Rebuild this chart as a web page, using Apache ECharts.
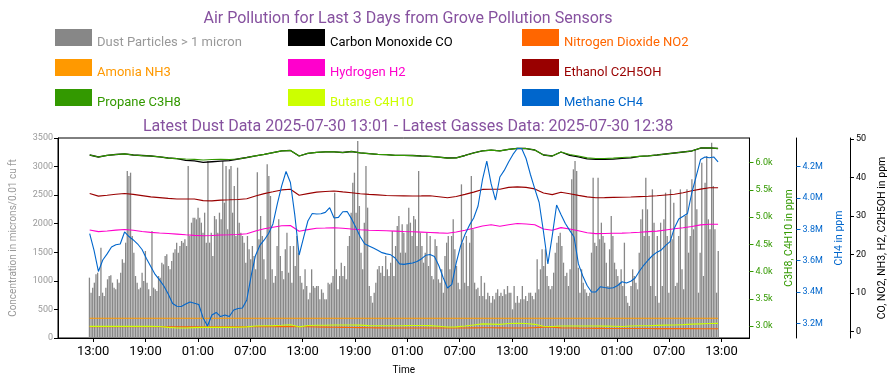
<!DOCTYPE html>
<html><head><meta charset="utf-8">
<script src="https://cdn.jsdelivr.net/npm/echarts@6/dist/echarts.min.js"></script>
<style>html,body{margin:0;padding:0;background:#fff}#c{width:896px;height:385px}</style>
</head><body><div id="c"></div>
<script>
// Time in hours since 2025-07-27 00:00
const tickHours = [13,19,25,31,37,43,49,55,61,67,73,79,85];
const tickLabels = ['13:00','19:00','01:00','07:00','13:00','19:00','01:00','07:00','13:00','19:00','01:00','07:00','13:00'];

const dustStart = 12.57, dustEnd = 84.62;
const dustValues = [
1056,793,881,968,1114,1143,735,1581,793,735,881,1027,1085,1097,968,881,852,1027,968,1143,1377,1318,1668,2923,2835,2893,1785,1493,1085,968,852,881,1143,998,1523,968,852,735,1873,881,852,823,1085,1056,1318,1289,1435,1464,1260,1202,1348,1493,1552,1668,1493,1610,1698,1668,1727,1610,3010,1785,2018,2105,
2106,2077,2281,2106,2018,1843,2193,1668,3098,1668,1843,1435,2135,2077,1843,2193,2077,3098,2368,3010,1902,2952,3010,2193,2660,1785,2981,2018,1843,1785,1668,1318,1785,1552,1377,1610,1435,1202,2900,1727,2135,1785,1377,1027,3039,2835,2485,1202,968,1085,1610,2077,1435,1173,1027,1552,1843,1143,1610,968,1610,1260,1785,1493,
1085,968,852,1202,910,677,793,1202,910,881,910,910,677,852,793,677,677,968,939,968,1085,2543,1202,852,1085,1318,1085,1260,1027,1610,1785,2193,2718,2893,2193,3447,2310,1493,1202,2018,3010,2281,910,735,618,793,968,1202,1260,1143,1260,1085,1435,1202,1085,1318,1873,1085,1610,1960,2135,1493,1989,1843,
1493,1989,2281,2018,1785,2135,2077,1610,2923,1843,1610,1318,1493,1843,1260,1785,1085,1027,1727,1610,1027,968,1202,793,1435,1668,1785,1202,1785,2077,1552,1260,968,852,2689,1668,968,1785,910,1668,2835,1902,968,852,881,735,1085,735,968,677,793,735,618,735,677,793,852,735,793,735,852,764,910,793,
793,502,910,618,735,618,677,910,677,735,648,793,793,735,677,793,1377,852,1202,1552,1260,1552,1085,910,852,910,1143,1493,1668,1785,1843,1610,1318,1085,1143,910,1202,2777,2952,3098,2923,1231,793,1202,968,852,793,735,793,1493,2806,1668,1610,2806,1727,2018,1785,1668,1318,910,1552,2135,1785,1318,
1202,1085,968,1202,910,1668,735,618,560,910,1202,1085,968,852,1493,2077,2252,1785,2806,2252,1785,910,2602,2018,735,1785,618,2018,910,2077,2543,1785,793,2602,1727,2368,910,968,1785,2602,1202,852,2135,2602,1493,1785,2777,1902,3302,2252,793,1493,3068,1085,2718,3185,2077,1902,3418,2660,1902,793,1524
];

// Gas readings, hourly from 12:36 on 07-27
const gasStart = 12.6, gasStep = 1;
const coValues = [45.85,45.33,45.77,45.98,46.16,45.85,45.72,45.59,45.38,45.07,44.91,44.45,44.35,43.95,44.1,44.25,44.4,44.81,45.2,45.64,46.03,46.44,46.94,47.02,45.59,46.29,46.55,46.68,46.68,46.5,46.76,46.42,46.21,46.03,45.95,45.77,45.77,45.72,45.59,45.49,45.28,45.07,45.12,45.72,46.37,46.94,47.09,46.94,47.33,47.59,47.53,47.15,45.85,45.59,46.63,45.75,45.35,44.85,44.7,44.7,44.8,44.95,45.1,45.49,45.64,45.85,46.11,46.37,46.63,46.89,47.66,47.72,47.53];
const no2Values = [1.32,1.32,1.33,1.33,1.32,1.32,1.31,1.3,1.3,1.28,1.27,1.26,1.26,1.25,1.25,1.25,1.25,1.26,1.27,1.28,1.3,1.3,1.31,1.32,1.28,1.27,1.24,1.2,1.16,1.12,1.08,1.05,1.02,1.0,0.98,0.97,0.96,0.96,0.96,0.96,0.95,0.95,0.96,0.98,1.0,1.02,1.02,1.0,0.98,0.97,0.98,1.05,1.2,1.15,1.0,0.95,0.92,0.9,0.88,0.86,0.85,0.84,0.83,0.82,0.82,0.81,0.8,0.8,0.79,0.79,0.78,0.78,0.78];
const nh3Values = [3.48,3.48,3.48,3.48,3.48,3.48,3.48,3.48,3.48,3.48,3.48,3.48,3.48,3.48,3.48,3.48,3.48,3.48,3.48,3.48,3.48,3.48,3.48,3.48,3.48,3.48,3.48,3.48,3.48,3.48,3.48,3.48,3.48,3.48,3.48,3.48,3.48,3.48,3.48,3.48,3.48,3.48,3.48,3.48,3.48,3.48,3.48,3.48,3.48,3.48,3.48,3.48,3.48,3.48,3.48,3.48,3.48,3.48,3.48,3.48,3.48,3.48,3.48,3.48,3.48,3.48,3.48,3.48,3.48,3.48,3.48,3.48,3.48];
const h2Values = [26.39,25.97,26.15,26.36,26.54,26.31,26.02,25.77,25.61,25.48,25.32,25.14,24.99,24.91,24.96,25.09,25.14,25.22,25.43,26.13,26.7,27.11,27.5,27.56,26.08,26.49,26.86,26.91,26.98,26.86,26.65,26.47,26.34,26.26,26.18,26.1,26.02,25.95,25.84,25.74,25.64,25.56,25.87,26.34,26.83,27.43,27.76,27.35,27.76,28.07,27.95,27.74,26.65,26.34,27.01,26.65,26.18,25.69,25.45,25.48,25.53,25.58,25.69,25.82,25.97,26.1,26.41,26.7,26.98,27.3,27.71,27.87,27.87];
const ethanolValues = [35.88,35.18,35.39,35.65,35.88,35.63,35.31,34.98,34.8,34.59,34.43,34.43,34.43,34.02,33.94,34.15,34.22,34.3,34.51,35.21,35.83,36.3,36.79,36.95,35.42,35.83,36.22,36.38,36.51,36.27,36.07,35.81,35.63,35.5,35.34,35.26,35.24,35.21,35.24,35.29,35.03,34.74,35.08,35.63,36.22,36.92,36.97,36.97,37.44,37.57,37.44,37.05,35.99,35.57,36.17,35.78,35.37,34.98,34.77,34.8,34.85,34.87,34.95,35.05,35.13,35.26,35.47,35.65,36.07,36.56,37.0,37.36,37.36];
const propaneValues = [6142,6105,6136,6151,6164,6142,6132,6123,6109,6086,6075,6068,6063,6050,6059,6062,6059,6068,6096,6127,6154,6184,6219,6224,6123,6173,6191,6200,6200,6188,6206,6182,6167,6154,6149,6136,6136,6132,6123,6116,6101,6086,6090,6132,6178,6219,6230,6219,6246,6265,6261,6233,6142,6123,6197,6151,6123,6090,6077,6077,6086,6096,6105,6116,6127,6142,6160,6178,6197,6215,6270,6274,6261];
const butaneValues = [2994,2994,2995,2994,2993,2994,2994,2993,2990,2975,2965,2963,2970,2976,2976,2977,2976,2978,2985,3000,3006,3008,3015,3024,2985,3010,3013,3013,3018,3018,3018,3017,3008,3006,3006,3006,3007,3010,3010,3008,2995,2982,2985,3000,3020,3040,3035,3030,3045,3049,3047,3031,2995,2990,3000,3000,3000,3000,3000,2998,2995,2990,3000,3004,3006,3012,3016,3020,3026,3035,3040,3045,3049];
// Methane readings, every 30 minutes
const ch4Start = 12.6, ch4Step = 0.5;
const ch4Values = [3773000,3665000,3531000,3604000,3643000,3687000,3701000,3706000,3783000,3754000,3732000,3706000,3671000,3614000,3563000,3512000,3477000,3438000,3387000,3326000,3309000,3307000,3323000,3336000,3328000,3320000,3234000,3183000,3253000,3269000,3243000,3253000,3243000,3285000,3294000,3298000,3349000,3502000,3633000,3697000,3732000,3773000,3834000,3962000,4077000,4169000,4099000,3892000,3636000,3745000,3853000,3901000,3898000,3899000,3908000,3938000,3872000,3876000,3912000,3914000,3868000,3812000,3753000,3708000,3694000,3680000,3666000,3651000,3643000,3637000,3617000,3579000,3576000,3581000,3585000,3595000,3611000,3634000,3639000,3627000,3569000,3492000,3425000,3448000,3585000,3694000,3767000,3825000,3872000,3949000,4115000,4236000,4090000,3987000,4134000,4176000,4230000,4278000,4316000,4316000,4252000,4150000,4058000,3971000,3783000,3579000,3758000,3955000,3895000,3837000,3793000,3751000,3579000,3502000,3441000,3400000,3400000,3433000,3428000,3424000,3427000,3441000,3465000,3457000,3468000,3489000,3534000,3572000,3604000,3633000,3654000,3668000,3697000,3721000,3809000,3866000,3883000,3901000,4035000,4139000,4246000,4262000,4257000,4262000,4230000];

const propTicks = [3000,3500,4000,4500,5000,5500,6000];
const ch4Ticks = [3200000,3400000,3600000,3800000,4000000,4200000];
const gasTicks = [0,10,20,30,40,50];

const names = {
  dust:'Dust Particles > 1 micron', co:'Carbon Monoxide CO', no2:'Nitrogen Dioxide NO2',
  nh3:'Amonia NH3', h2:'Hydrogen H2', eth:'Ethanol C2H5OH',
  prop:'Propane C3H8', but:'Butane C4H10', ch4:'Methane CH4'
};
const colors = {dust:'#878787', co:'#000000', no2:'#ff6600', nh3:'#ff9900', h2:'#ff00cc', eth:'#990000', prop:'#339900', but:'#ccff00', ch4:'#0066cc'};

const dustStep = (dustEnd - dustStart) / (dustValues.length - 1);
const dustData = dustValues.map((v,i)=>[dustStart + i*dustStep, v]);
const gasData = arr => arr.map((v,i)=>[gasStart + i*gasStep, v]);
const ch4Data = ch4Values.map((v,i)=>[ch4Start + i*ch4Step, v]);

const FONT = 'Roboto';
const purple = '#86519f';

function lineSeries(key, values, yIdx, width){
  return {name:names[key], type:'line', yAxisIndex:yIdx, data: values, showSymbol:false, symbol:'none',
    color: colors[key], lineStyle:{color:colors[key], width: width||1.1}, silent:true, z:3};
}
function legendItem(key, textColor){
  const c = textColor||colors[key];
  return {name:names[key], icon:'rect', itemStyle:{color:colors[key]},
    textStyle:{color:c, rich:{t:{color:c, fontSize:13, fontFamily:FONT, padding:[11,0,0,0]}}}};
}
const legendBase = {orient:'vertical', top:24, itemGap:9.5, itemWidth:37, itemHeight:17, selectedMode:false,
  formatter: n => '{t|' + n + '}',
  textStyle:{fontFamily:FONT, fontSize:13}};

const chart = echarts.init(document.getElementById('c'), null, {renderer:'canvas'});
chart.setOption({
  animation:false,
  textStyle:{fontFamily:FONT},
  title:[
    {text:'Air Pollution for Last 3 Days from Grove Pollution Sensors', left:403, top:6, textAlign:'center',
     textStyle:{color:purple, fontSize:16, fontWeight:'normal', fontFamily:FONT}},
    {text:'Latest Dust Data 2025-07-30 13:01 - Latest Gasses Data: 2025-07-30 12:38', left:403, top:114, textAlign:'center',
     textStyle:{color:purple, fontSize:16, fontWeight:'normal', fontFamily:FONT}}
  ],
  legend:[
    Object.assign({}, legendBase, {left:50, data:[legendItem('dust','#999999'), legendItem('nh3'), legendItem('prop')]}),
    Object.assign({}, legendBase, {left:283, data:[legendItem('co'), legendItem('h2'), legendItem('but')]}),
    Object.assign({}, legendBase, {left:517, data:[legendItem('no2'), legendItem('eth'), legendItem('ch4')]})
  ],
  grid:{left:55, right:144, top:138, bottom:47, show:true, borderColor:'#000', borderWidth:1, containLabel:false},
  xAxis:{type:'value', min:8.97, max:88.2, name:'Time', nameLocation:'middle', nameGap:27,
    nameTextStyle:{color:'#000', fontSize:10, fontFamily:FONT},
    axisLine:{show:true, lineStyle:{color:'#000'}},
    axisTick:{show:true, length:4, customValues:tickHours, lineStyle:{color:'#000'}},
    axisLabel:{customValues:tickHours, color:'#000', fontSize:13, margin:7, fontFamily:FONT,
      formatter:v=>{const i=tickHours.indexOf(Math.round(v)); return i>=0?tickLabels[i]:'';}},
    splitLine:{show:false}},
  yAxis:[
    {type:'value', position:'left', min:0, max:3500, interval:500,
     name:'Concentration in microns/0.01 cu ft', nameLocation:'middle', nameGap:40, nameRotate:90,
     nameTextStyle:{color:'#999999', fontSize:10, fontFamily:FONT},
     axisLine:{show:true, lineStyle:{color:'#000'}}, axisTick:{show:true, length:4, lineStyle:{color:'#000'}},
     axisLabel:{color:'#999999', fontSize:9, margin:5, fontFamily:FONT, formatter:v=>String(v)}, splitLine:{show:false}},
    {type:'value', position:'right', offset:0, min:2780, max:6454,
     name:'C3H8, C4H10 in ppm', nameLocation:'middle', nameGap:33, nameRotate:90,
     nameTextStyle:{color:'#339900', fontSize:10.5, fontFamily:FONT},
     axisLine:{show:true, lineStyle:{color:'#000'}},
     axisTick:{show:true, length:4, customValues:propTicks, lineStyle:{color:'#339900'}},
     axisLabel:{customValues:propTicks, color:'#339900', fontSize:9, margin:6, fontFamily:FONT,
       formatter:v=>(v/1000).toFixed(1)+'k'}, splitLine:{show:false}},
    {type:'value', position:'right', offset:47, min:3106000, max:4383000,
     name:'CH4 in ppm', nameLocation:'middle', nameGap:36, nameRotate:90,
     nameTextStyle:{color:'#0066cc', fontSize:10.5, fontFamily:FONT},
     axisLine:{show:true, lineStyle:{color:'#000'}},
     axisTick:{show:true, length:4, customValues:ch4Ticks, lineStyle:{color:'#0066cc'}},
     axisLabel:{customValues:ch4Ticks, color:'#0066cc', fontSize:9, margin:6, fontFamily:FONT,
       formatter:v=>(v/1e6).toFixed(1)+'M'}, splitLine:{show:false}},
    {type:'value', position:'right', offset:100.5, min:-1.63, max:50.26,
     name:'CO, NO2, NH3, H2, C2H5OH in ppm', nameLocation:'middle', nameGap:25, nameRotate:90,
     nameTextStyle:{color:'#000', fontSize:10.5, fontFamily:FONT},
     axisLine:{show:true, lineStyle:{color:'#000'}},
     axisTick:{show:true, length:4, customValues:gasTicks, lineStyle:{color:'#000'}},
     axisLabel:{customValues:gasTicks, color:'#000', fontSize:9, margin:6, fontFamily:FONT}, splitLine:{show:false}}
  ],
  series:[
    {name:names.dust, type:'bar', yAxisIndex:0, data:dustData, barWidth:1.3, color:colors.dust,
     itemStyle:{color:colors.dust}, silent:true, z:2},
    lineSeries('co', gasData(coValues), 3, 1.3),
    lineSeries('no2', gasData(no2Values), 3),
    lineSeries('nh3', gasData(nh3Values), 3),
    lineSeries('h2', gasData(h2Values), 3),
    lineSeries('eth', gasData(ethanolValues), 3),
    lineSeries('prop', gasData(propaneValues), 1, 1.2),
    lineSeries('but', gasData(butaneValues), 1),
    lineSeries('ch4', ch4Data, 2, 1.1)
  ]
});
</script></body></html>
